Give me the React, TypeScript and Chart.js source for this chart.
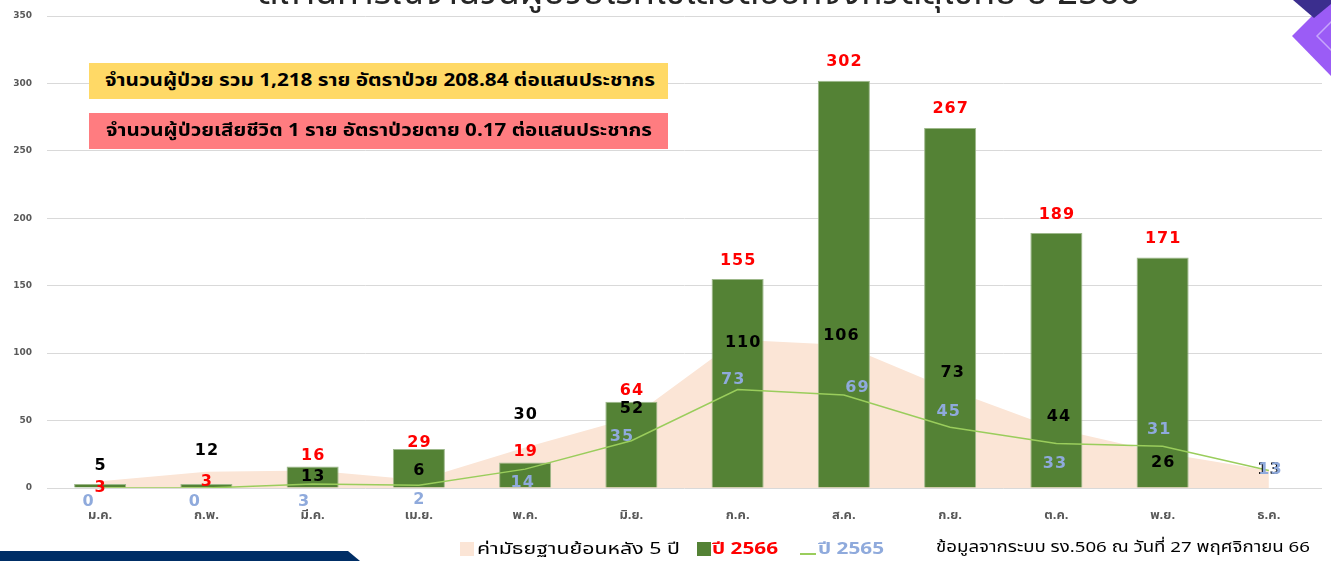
import React, { useEffect, useLayoutEffect, useRef } from "react";
import { Chart, registerables } from "chart.js";

Chart.register(...registerables);

// ---------- data ----------
const months = ["ม.ค.", "ก.พ.", "มี.ค.", "เม.ย.", "พ.ค.", "มิ.ย.", "ก.ค.", "ส.ค.", "ก.ย.", "ต.ค.", "พ.ย.", "ธ.ค."];
const cases2566: (number | null)[] = [3, 3, 16, 29, 19, 64, 155, 302, 267, 189, 171, null];
const median5y = [5, 12, 13, 6, 30, 52, 110, 106, 73, 44, 26, 13];
const cases2565 = [0, 0, 3, 2, 14, 35, 73, 69, 45, 33, 31, 13];
const yMax = 350;
const yStep = 50;

// ---------- label nudges (relative to library-computed points) ----------
const barLabelDy = [4, -2, -11, -6, -11, -11, -18, -19, -19, -18, -19, 0];
const medianLabelDy = [-15, -21, 6, -9, -33, -9, 3, -9, -17, -12, 10, -1];
const medianLabelDx = [0, 0, 0, 0, 0, 0, 5, -3, 2, 2, 0, 0];
const lineLabelDy = [14, 14, 18, 15, 14, -4, -10, -7, -15, 20, -16, -1];
const lineLabelDx = [-12, -12, -9, 0, -3, -10, -5, 13, -2, -2, -4, 1];

const PLOT_TOP = 16;

const THAI = "Tahoma, 'Noto Sans Thai', 'Noto Sans Thai UI', 'Leelawadee UI', sans-serif";
const NUM = "'DejaVu Sans', Verdana, sans-serif";

const valueLabels = {
  id: "valueLabels",
  afterDatasetsDraw(chart: any) {
    const ctx = chart.ctx as CanvasRenderingContext2D;
    ctx.save();
    ctx.font = `bold 16px ${NUM}`;
    (ctx as any).letterSpacing = "1px";
    ctx.textAlign = "center";
    ctx.textBaseline = "middle";
    const draw = (idx: number, color: string, dx: number[] | null, dy: number[]) => {
      const meta = chart.getDatasetMeta(idx);
      const data = chart.data.datasets[idx].data;
      meta.data.forEach((el: any, i: number) => {
        const v = data[i];
        if (v === null || v === undefined) return;
        ctx.fillStyle = color;
        ctx.fillText(String(v), el.x + (dx ? dx[i] : 0) + 0.5, el.y + dy[i]);
      });
    };
    draw(2, "#000000", medianLabelDx, medianLabelDy);
    draw(1, "#FF0000", null, barLabelDy);
    draw(0, "#8FAADC", lineLabelDx, lineLabelDy);
    ctx.restore();
  },
};

function FitText(props: { left: number; top: number; w: number; style: React.CSSProperties; children: React.ReactNode }) {
  const r = useRef<HTMLDivElement | null>(null);
  useLayoutEffect(() => {
    const el = r.current;
    if (!el) return;
    el.style.transform = "none";
    const nat = el.getBoundingClientRect().width;
    if (nat > 0) el.style.transform = `scaleX(${props.w / nat})`;
  }, [props.w]);
  return (
    <div
      ref={r}
      style={{
        position: "absolute",
        left: props.left,
        top: props.top,
        whiteSpace: "nowrap",
        transformOrigin: "left center",
        ...props.style,
      }}
    >
      {props.children}
    </div>
  );
}

export default function App() {
  const ref = useRef<HTMLCanvasElement | null>(null);

  useEffect(() => {
    if (!ref.current) return;
    const chart = new Chart(ref.current, {
      type: "bar",
      data: {
        labels: months,
        datasets: [
          {
            type: "line",
            label: "ปี 2565",
            data: cases2565,
            borderColor: "#9ACD5C",
            borderWidth: 1.5,
            pointRadius: 0,
            fill: false,
            tension: 0,
            order: 0,
          } as any,
          {
            type: "bar",
            label: "ปี 2566",
            data: cases2566,
            backgroundColor: "#548235",
            borderColor: "#9DB88A",
            borderWidth: 1,
            barPercentage: 0.49,
            categoryPercentage: 1,
            order: 1,
          } as any,
          {
            type: "line",
            label: "ค่ามัธยฐานย้อนหลัง 5 ปี",
            data: median5y,
            backgroundColor: "#FBE5D6",
            borderWidth: 0,
            borderColor: "rgba(0,0,0,0)",
            pointRadius: 0,
            fill: "origin",
            tension: 0,
            order: 2,
          } as any,
        ],
      },
      options: {
        animation: false,
        responsive: false,
        maintainAspectRatio: false,
        layout: { padding: { left: 0, right: 9, top: PLOT_TOP, bottom: 0 } },
        plugins: {
          legend: { display: false },
          tooltip: { enabled: false },
          title: { display: false },
        },
        scales: {
          x: {
            grid: { display: false, drawTicks: false },
            border: { display: false },
            ticks: {
              color: "#595959",
              font: { family: THAI, size: 13, weight: "bold" },
              padding: 21,
              maxRotation: 0,
              autoSkip: false,
            },
            afterFit(scale: any) {
              scale.height = 73;
            },
          },
          y: {
            min: 0,
            max: yMax,
            grid: {
              color: "#D9D9D9",
              lineWidth: 1,
              drawTicks: true,
              tickLength: 15,
              tickColor: "rgba(0,0,0,0)",
            },
            border: { display: false },
            ticks: {
              stepSize: yStep,
              color: "#595959",
              font: { family: NUM, size: 9, weight: "bold" },
              padding: 0,
            },
            afterFit(scale: any) {
              scale.width = 47;
            },
          },
        },
      } as any,
      plugins: [valueLabels],
    });
    // keep the plot top where the reference's top gridline is
    const diff = PLOT_TOP - chart.chartArea.top;
    if (Math.abs(diff) > 0.1) {
      (chart.options as any).layout.padding = { left: 0, right: 9, top: PLOT_TOP + diff, bottom: 0 };
      chart.update();
    }
    return () => chart.destroy();
  }, []);

  const abs = (s: React.CSSProperties): React.CSSProperties => ({ position: "absolute", ...s });

  return (
    <div
      style={{
        position: "fixed",
        left: 0,
        top: 0,
        width: 1331,
        height: 561,
        overflow: "hidden",
        background: "#FFFFFF",
        fontFamily: THAI,
      }}
    >
      <canvas ref={ref} width={1331} height={561} style={abs({ left: 0, top: 0, width: 1331, height: 561 })} />

      {/* title (cut at top) */}
      <FitText left={258} top={-27} w={882} style={{ fontSize: 36, lineHeight: "40px", color: "#262626" }}>
        สถานการณ์จำนวนผู้ป่วยโรคไข้เลือดออกจังหวัดสุโขทัย ปี 2566
      </FitText>

      {/* info boxes */}
      <div style={abs({ left: 89, top: 63, width: 579, height: 36, background: "#FFD966" })} />
      <FitText left={105} top={63} w={550} style={{ fontSize: 17, fontWeight: "bold", lineHeight: "36px", color: "#000" }}>
        จำนวนผู้ป่วย รวม 1,218 ราย อัตราป่วย 208.84 ต่อแสนประชากร
      </FitText>
      <div style={abs({ left: 89, top: 113, width: 579, height: 36, background: "#FF7C80" })} />
      <FitText left={106} top={113} w={546} style={{ fontSize: 17, fontWeight: "bold", lineHeight: "36px", color: "#000" }}>
        จำนวนผู้ป่วยเสียชีวิต 1 ราย อัตราป่วยตาย 0.17 ต่อแสนประชากร
      </FitText>

      {/* legend */}
      <div style={abs({ left: 460, top: 542, width: 14, height: 14, background: "#FBE5D6" })} />
      <FitText left={477} top={539} w={203} style={{ fontSize: 16, lineHeight: "20px", color: "#000" }}>
        ค่ามัธยฐานย้อนหลัง 5 ปี
      </FitText>
      <div style={abs({ left: 697, top: 542, width: 14, height: 14, background: "#548235" })} />
      <FitText left={712} top={539} w={66} style={{ fontSize: 16, lineHeight: "20px", color: "#FF0000", fontWeight: "bold" }}>
        ปี 2566
      </FitText>
      <div style={abs({ left: 800, top: 553, width: 16, height: 2, background: "#9ACD5C" })} />
      <FitText left={818} top={539} w={66} style={{ fontSize: 16, lineHeight: "20px", color: "#8FAADC", fontWeight: "bold" }}>
        ปี 2565
      </FitText>
      <FitText left={936} top={538} w={374} style={{ fontSize: 15, lineHeight: "20px", color: "#000" }}>
        ข้อมูลจากระบบ รง.506 ณ วันที่ 27 พฤศจิกายน 66
      </FitText>

      {/* decorations */}
      <svg width={1331} height={561} style={abs({ left: 0, top: 0, pointerEvents: "none" })}>
        <polygon points="0,551 348,551 360,561 0,561" fill="#002E66" />
        <polygon points="1292,36 1331,-3 1370,36 1331,76" fill="#9B5CF6" />
        <polygon points="1317,36 1331,22 1345,36 1331,50" fill="none" stroke="#C7A6FB" strokeWidth={1.5} />
        <polygon points="1293,0 1336,0 1314,18" fill="#3B2E8E" />
      </svg>
    </div>
  );
}
